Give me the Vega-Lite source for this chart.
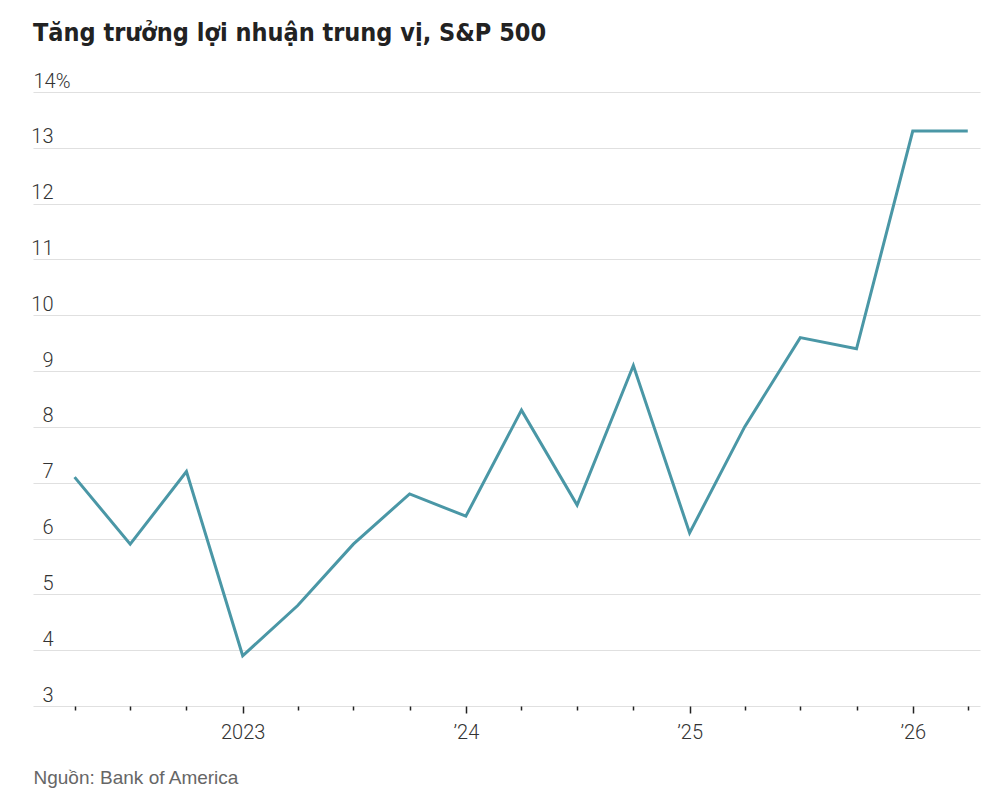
{
  "$schema": "https://vega.github.io/schema/vega-lite/v6.json",
  "width": 947,
  "height": 614,
  "autosize": {"type": "none"},
  "padding": {"left": 33, "top": 92, "right": 20, "bottom": 88},
  "background": "white",
  "config": {"view": {"stroke": null}},
  "title": {
    "text": "Tăng trưởng lợi nhuận trung vị, S&P 500",
    "anchor": "start",
    "frame": "group",
    "font": "'Liberation Sans Narrow', 'Noto Sans Condensed', 'DejaVu Sans Condensed', Roboto, sans-serif",
    "fontSize": 25,
    "fontWeight": "bold",
    "color": "#222222",
    "offset": 25
  },
  "data": {
    "values": [
      {"date": "2022-04-01", "growth": 7.1},
      {"date": "2022-07-01", "growth": 5.9},
      {"date": "2022-10-01", "growth": 7.2},
      {"date": "2023-01-01", "growth": 3.9},
      {"date": "2023-04-01", "growth": 4.8},
      {"date": "2023-07-01", "growth": 5.9},
      {"date": "2023-10-01", "growth": 6.8},
      {"date": "2024-01-01", "growth": 6.4},
      {"date": "2024-04-01", "growth": 8.3},
      {"date": "2024-07-01", "growth": 6.6},
      {"date": "2024-10-01", "growth": 9.1},
      {"date": "2025-01-01", "growth": 6.1},
      {"date": "2025-04-01", "growth": 8.0},
      {"date": "2025-07-01", "growth": 9.6},
      {"date": "2025-10-01", "growth": 9.4},
      {"date": "2026-01-01", "growth": 13.3},
      {"date": "2026-04-01", "growth": 13.3}
    ]
  },
  "mark": {"type": "line", "color": "#4a97a6", "strokeWidth": 3, "strokeJoin": "miter"},
  "encoding": {
    "x": {
      "field": "date",
      "type": "temporal",
      "scale": {
        "type": "utc",
        "domain": [
          {"year": 2022, "month": 1, "date": 23, "utc": true},
          {"year": 2026, "month": 4, "date": 21, "utc": true}
        ]
      },
      "axis": {
        "title": "Nguồn: Bank of America",
        "titleX": 0,
        "titleY": 77,
        "titleAnchor": "start",
        "titleAlign": "left",
        "titleBaseline": "alphabetic",
        "titleFont": "Liberation Sans",
        "titleFontSize": 19,
        "titleFontWeight": "normal",
        "titleColor": "#666666",
        "domain": false,
        "grid": false,
        "tickCount": {"interval": "month", "step": 3},
        "tickColor": "#222222",
        "tickWidth": 1.5,
        "tickSize": {"condition": {"test": "utcmonth(datum.value) === 0", "value": 7}, "value": 4},
        "labelExpr": "utcmonth(datum.value) === 0 ? (utcyear(datum.value) === 2023 ? '2023' : '’' + utcFormat(datum.value, '%y')) : ''",
        "labelFont": "Roboto",
        "labelFontWeight": 300,
        "labelFontSize": 20,
        "labelColor": "#333333",
        "labelBaseline": "alphabetic",
        "labelPadding": 25,
        "labelFlush": false,
        "labelOverlap": false
      }
    },
    "y": {
      "field": "growth",
      "type": "quantitative",
      "scale": {"domain": [3, 14], "nice": false, "zero": false},
      "axis": {
        "title": null,
        "domain": false,
        "ticks": false,
        "tickSize": 0,
        "grid": true,
        "gridColor": "#e0e0e0",
        "gridWidth": 1.2,
        "values": [3, 4, 5, 6, 7, 8, 9, 10, 11, 12, 13, 14],
        "labelExpr": "datum.value === 14 ? '14%' : datum.label",
        "labelAlign": {"condition": {"test": "datum.value === 14", "value": "left"}, "value": "right"},
        "labelPadding": {"condition": {"test": "datum.value === 14", "value": 0}, "value": -20},
        "labelBaseline": "alphabetic",
        "labelOffset": -5,
        "labelFont": "Roboto",
        "labelFontWeight": 300,
        "labelFontSize": 20,
        "labelColor": "#333333"
      }
    }
  }
}
